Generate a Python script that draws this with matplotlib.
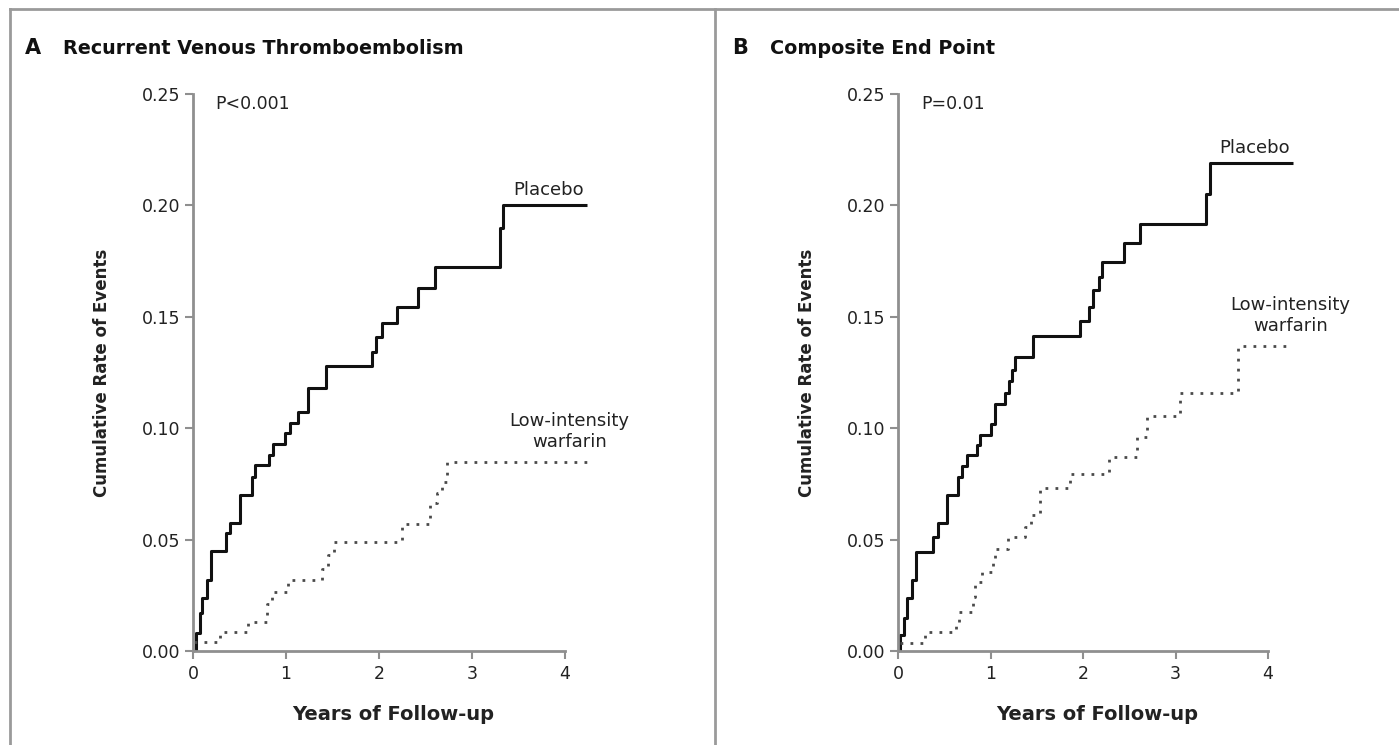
import matplotlib
matplotlib.use("Agg")
import matplotlib.pyplot as plt
from matplotlib.lines import Line2D

# Panel A: recurrent venous thromboembolism (years, cumulative rate)
vte_placebo_t = [0, 0.03, 0.08, 0.10, 0.15, 0.19, 0.36, 0.40, 0.50, 0.63, 0.67, 0.82, 0.86,
                 0.99, 1.04, 1.13, 1.24, 1.43, 1.93, 1.97, 2.03, 2.19, 2.42, 2.60, 3.30, 3.33, 4.24]
vte_placebo_r = [0, 0.008, 0.017, 0.024, 0.032, 0.045, 0.0528, 0.0573, 0.070, 0.078, 0.0835, 0.088, 0.0928,
                 0.0977, 0.1025, 0.1074, 0.118, 0.128, 0.134, 0.141, 0.147, 0.1545, 0.163, 0.1725, 0.19, 0.20, 0.20]
vte_warf_t = [0, 0.01, 0.29, 0.595, 0.80, 0.85, 1.02, 1.39, 1.45, 1.52, 2.25, 2.55, 2.62, 2.68, 2.73, 4.27]
vte_warf_r = [0, 0.0042, 0.0084, 0.0129, 0.021, 0.0266, 0.032, 0.037, 0.043, 0.0488, 0.057, 0.0663,
              0.071, 0.076, 0.085, 0.085]

# Panel B: composite end point
comp_placebo_t = [0, 0.02, 0.065, 0.10, 0.15, 0.195, 0.38, 0.43, 0.53, 0.65, 0.69, 0.75, 0.85, 0.89,
                  1.01, 1.05, 1.16, 1.20, 1.23, 1.26, 1.46, 1.97, 2.06, 2.11, 2.17, 2.20, 2.44, 2.62,
                  3.33, 3.37, 4.27]
comp_placebo_r = [0, 0.0072, 0.0148, 0.024, 0.032, 0.0446, 0.051, 0.0573, 0.070, 0.078, 0.083, 0.088,
                  0.0925, 0.097, 0.102, 0.111, 0.1157, 0.121, 0.126, 0.132, 0.1414, 0.148, 0.1545,
                  0.162, 0.168, 0.1747, 0.183, 0.1917, 0.205, 0.2189, 0.2189]
comp_warf_t = [0, 0.01, 0.29, 0.63, 0.66, 0.81, 0.83, 0.91, 1.03, 1.05, 1.19, 1.37, 1.44, 1.535,
               1.86, 2.28, 2.58, 2.69, 3.05, 3.68, 4.27]
comp_warf_r = [0, 0.0037, 0.0084, 0.0127, 0.0174, 0.0244, 0.031, 0.0356, 0.041, 0.0457, 0.0513,
               0.0558, 0.061, 0.073, 0.0794, 0.0872, 0.0959, 0.1055, 0.1157, 0.137, 0.137]

x_ticks = [0, 1, 2, 3, 4]
y_ticks = [0.00, 0.05, 0.10, 0.15, 0.20, 0.25]
y_ticklabels = ["0.00", "0.05", "0.10", "0.15", "0.20", "0.25"]

W, H = 1399, 745
fig = plt.figure(figsize=(W / 100, H / 100), dpi=100)
fig.patch.set_facecolor("white")

SPINE = "#8f8f8f"
TXT = "#222222"
plt.rcParams["font.family"] = ["DejaVu Sans"]


def panel(left_px, px_per_year, pl_t, pl_r, wf_t, wf_r, letter, title, title_x, ptext,
          pl_lab, wf_lab):
    ax = fig.add_axes([left_px / W, (H - 651) / H, 4.3 * px_per_year / W, 557 / H])
    ax.set_xlim(0, 4.3)
    ax.set_ylim(0, 0.25)
    ax.step(pl_t, pl_r, where="post", color="#111111", lw=2.2, solid_capstyle="butt")
    ax.step(wf_t, wf_r, where="post", color="#4a4a4a", lw=2.0, linestyle=(0, (1, 2.6)))
    for s in ("top", "right"):
        ax.spines[s].set_visible(False)
    for s in ("left", "bottom"):
        ax.spines[s].set_color(SPINE)
        ax.spines[s].set_linewidth(2.0)
    ax.spines["bottom"].set_bounds(0, 4)
    ax.set_xticks(x_ticks)
    ax.set_yticks(y_ticks)
    ax.set_yticklabels(y_ticklabels)
    ax.tick_params(axis="both", colors=SPINE, labelcolor=TXT, labelsize=12.5, length=6, width=1.5)
    ax.tick_params(axis="y", pad=3)
    ax.tick_params(axis="x", pad=4)
    ax.set_xlabel("Years of Follow-up", fontsize=14, fontweight="bold", color=TXT, labelpad=16)
    ax.set_ylabel("Cumulative Rate of Events", fontsize=12, fontweight="bold", color=TXT, labelpad=22)
    ax.patch.set_visible(False)

    ax.text(ptext[0], ptext[1], ptext[2], fontsize=12.5, color=TXT, ha="left", va="center")
    ax.text(pl_lab[0], pl_lab[1], "Placebo", fontsize=13, color=TXT, ha="center", va="center")
    ax.text(wf_lab[0], wf_lab[1], "Low-intensity\nwarfarin", fontsize=13, color=TXT,
            ha="center", va="center", linespacing=1.25)

    fig.text(title_x / W, (H - 48) / H, letter, fontsize=15, fontweight="bold", color="#111111",
             ha="left", va="center")
    fig.text((title_x + 38) / W, (H - 48) / H, title, fontsize=13.8, fontweight="bold",
             color="#111111", ha="left", va="center")
    return ax


panel(193, 93.0, vte_placebo_t, vte_placebo_r, vte_warf_t, vte_warf_r,
      "A", "Recurrent Venous Thromboembolism", 25, (0.24, 0.2455, "P<0.001"),
      (3.82, 0.2069), (4.05, 0.0985))
panel(898, 92.5, comp_placebo_t, comp_placebo_r, comp_warf_t, comp_warf_r,
      "B", "Composite End Point", 732, (0.25, 0.2455, "P=0.01"),
      (3.86, 0.2258), (4.24, 0.1506))

# outer frame: top rule, left rule and the divider between the panels
fig.add_artist(Line2D([10 / W, 1], [(H - 9) / H] * 2, color="#9a9a9a", lw=2.0))
fig.add_artist(Line2D([10 / W] * 2, [0, (H - 9) / H], color="#9a9a9a", lw=2.0))
fig.add_artist(Line2D([715 / W] * 2, [0, (H - 9) / H], color="#9a9a9a", lw=2.0))

fig.savefig("out.png", dpi=100)
